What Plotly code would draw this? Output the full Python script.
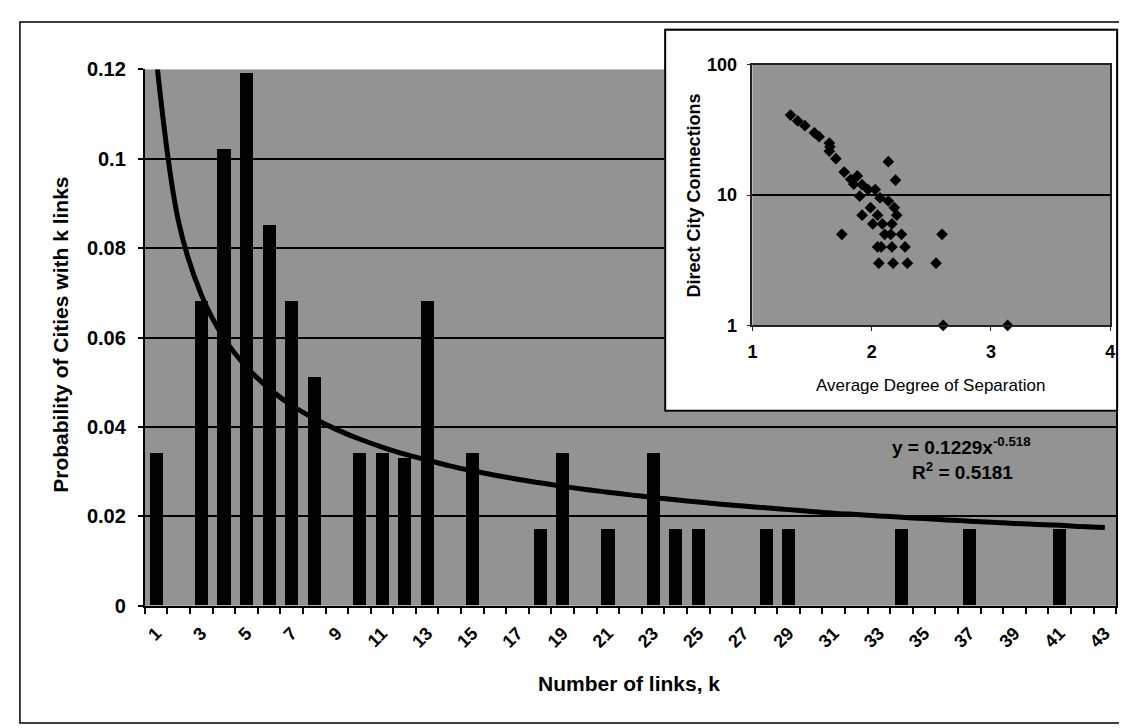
import plotly.graph_objects as go

# ---------------- data ----------------
k_links = [1, 3, 4, 5, 6, 7, 8, 10, 11, 12, 13, 15, 18, 19, 21, 23, 24, 25, 28, 29, 34, 37, 41]
prob_k = [0.034, 0.068, 0.102, 0.119, 0.085, 0.068, 0.051, 0.034, 0.034, 0.033, 0.068, 0.034,
          0.017, 0.034, 0.017, 0.034, 0.017, 0.017, 0.017, 0.017, 0.017, 0.017, 0.017]

trend_k = list(range(1, 44))
trend_y = [0.1229, 0.0858, 0.0696, 0.0599, 0.0534, 0.0486, 0.0448, 0.0419, 0.0394, 0.0373,
           0.0355, 0.0339, 0.0326, 0.0313, 0.0302, 0.0292, 0.0283, 0.0275, 0.0267, 0.0260,
           0.0254, 0.0248, 0.0242, 0.0237, 0.0232, 0.0227, 0.0223, 0.0219, 0.0215, 0.0211,
           0.0207, 0.0204, 0.0201, 0.0198, 0.0195, 0.0192, 0.0189, 0.0187, 0.0184, 0.0182,
           0.0180, 0.0177, 0.0175]

avg_sep = [1.32, 1.38, 1.44, 1.52, 1.56, 1.645, 1.65, 1.645, 1.70, 1.77, 1.825, 1.85, 1.88,
           1.92, 1.97, 2.03, 2.07, 2.14, 2.20, 1.90, 2.14, 1.99, 2.19, 1.92, 2.05, 2.21,
           2.01, 2.09, 2.17, 1.75, 2.11, 2.16, 2.25, 2.59, 2.05, 2.08, 2.17, 2.28,
           2.06, 2.18, 2.30, 2.54, 2.60, 3.14]
city_conn = [41, 37, 34, 30, 28, 25, 23.4, 21.7, 19, 15, 13.2, 12.1, 14,
             12, 11, 11, 9.5, 18, 13, 9.8, 9, 8, 8, 7, 7, 7,
             6, 6, 6, 5, 5, 5, 5, 5, 4, 4, 4, 4,
             3, 3, 3, 3, 1, 1]

W, H = 1127, 728
def px(x):
    return x / W
def py(y):
    return 1 - y / H

FONT = "Liberation Sans, Arial, sans-serif"
BG = "#939393"

fig = go.Figure()
fig.add_trace(go.Bar(x=k_links, y=prob_k, width=0.585, marker=dict(color="black", line=dict(width=0)),
                     xaxis="x", yaxis="y", showlegend=False))
fig.add_trace(go.Scatter(x=trend_k, y=trend_y, mode="lines",
                         line=dict(color="black", width=5, shape="spline"),
                         xaxis="x", yaxis="y", showlegend=False))
fig.add_trace(go.Scatter(x=[], y=[], xaxis="x2", yaxis="y2", showlegend=False))
fig.add_trace(go.Scatter(x=avg_sep, y=city_conn, mode="markers",
                         marker=dict(symbol="diamond", size=9, color="black"),
                         xaxis="x3", yaxis="y3", cliponaxis=False, showlegend=False))

def bold(size):
    return dict(family=FONT, size=size, color="black", weight="bold")

fig.update_layout(
    width=W, height=H,
    margin=dict(l=0, r=0, t=0, b=0),
    paper_bgcolor="white", plot_bgcolor=BG,
    font=dict(family=FONT, color="black"),
    bargap=0,
    xaxis=dict(domain=[px(133), px(1113)], range=[0.5, 43.5], tickmode="linear", tick0=1, dtick=2,
               ticks="", tickangle=-45, tickfont=bold(18), ticklabelstandoff=8,
               showgrid=False, zeroline=False,
               showline=True, linecolor="black", linewidth=2, anchor="y",
               minor=dict(tickmode="array", tickvals=[i + 0.5 for i in range(0, 44)],
                          ticks="outside", ticklen=6, tickwidth=1.5, tickcolor="black", showgrid=False)),
    yaxis=dict(domain=[py(605), py(52)], range=[0, 0.12], tickmode="linear", tick0=0, dtick=0.02,
               ticks="outside", ticklen=5, tickwidth=1.5, tickcolor="black", tickfont=bold(20),
               ticklabelstandoff=8,
               showgrid=True, gridcolor="black", gridwidth=1.5, zeroline=False,
               showline=True, linecolor="black", linewidth=2, mirror=True, anchor="x"),
    xaxis2=dict(domain=[px(657), px(1115)], range=[0, 1], showticklabels=False,
                ticks="", showgrid=False, zeroline=False, showline=False, anchor="y2"),
    yaxis2=dict(domain=[py(405), py(10)], range=[0, 1], showticklabels=False,
                ticks="", showgrid=False, zeroline=False, showline=False, anchor="x2"),
    xaxis3=dict(domain=[px(746), px(1107)], range=[1, 4], tickmode="linear", tick0=1, dtick=1,
                ticks="outside", ticklen=4, tickcolor="#222", tickfont=bold(18),
                ticklabelstandoff=5, showgrid=False,
                zeroline=False, showline=True, linecolor="#222", linewidth=1.5, mirror=True,
                anchor="y3"),
    yaxis3=dict(domain=[py(316), py(47)], type="log", range=[0, 2], tickmode="array",
                tickvals=[1, 10, 100], ticktext=["1", "10", "100"], ticks="outside", ticklen=4,
                tickcolor="#222", tickfont=bold(18), ticklabelstandoff=6,
                showgrid=True, gridcolor="black", gridwidth=1.5,
                zeroline=False, showline=True, linecolor="#222", linewidth=1.5, mirror=True,
                anchor="x3"),
    shapes=[
        dict(type="rect", xref="x2", yref="y2", x0=0, x1=1, y0=0, y1=1, layer="below",
             fillcolor="white", line=dict(color="black", width=4)),
        dict(type="rect", xref="paper", yref="paper", x0=px(7), x1=px(1121), y0=py(726), y1=py(3),
             layer="below", line=dict(color="black", width=1.5), fillcolor="rgba(0,0,0,0)"),
    ],
    annotations=[
        dict(text="<b>Number of links, k</b>", x=px(622), y=py(685), xref="paper", yref="paper",
             showarrow=False, xanchor="center", yanchor="middle", font=dict(family=FONT, size=21)),
        dict(text="<b>Probability of Cities with k links</b>", x=px(48), y=py(326), xref="paper",
             yref="paper", showarrow=False, textangle=-90, xanchor="center", yanchor="middle",
             font=dict(family=FONT, size=21)),
        dict(text="<b>y = 0.1229x<sup>-0.518</sup></b>", x=px(957), y=py(440), xref="paper",
             yref="paper", showarrow=False, xanchor="center", yanchor="middle",
             font=dict(family=FONT, size=19)),
        dict(text="<b>R<sup>2</sup> = 0.5181</b>", x=px(958), y=py(466), xref="paper",
             yref="paper", showarrow=False, xanchor="center", yanchor="middle",
             font=dict(family=FONT, size=19)),
        dict(text="Average Degree of Separation", x=px(926), y=py(378), xref="paper", yref="paper",
             showarrow=False, xanchor="center", yanchor="middle", font=dict(family=FONT, size=17)),
        dict(text="<b>Direct City Connections</b>", x=px(687), y=py(182), xref="paper",
             yref="paper", showarrow=False, textangle=-90, xanchor="center", yanchor="middle",
             font=dict(family=FONT, size=18)),
    ],
)

fig.write_html("out.html")
